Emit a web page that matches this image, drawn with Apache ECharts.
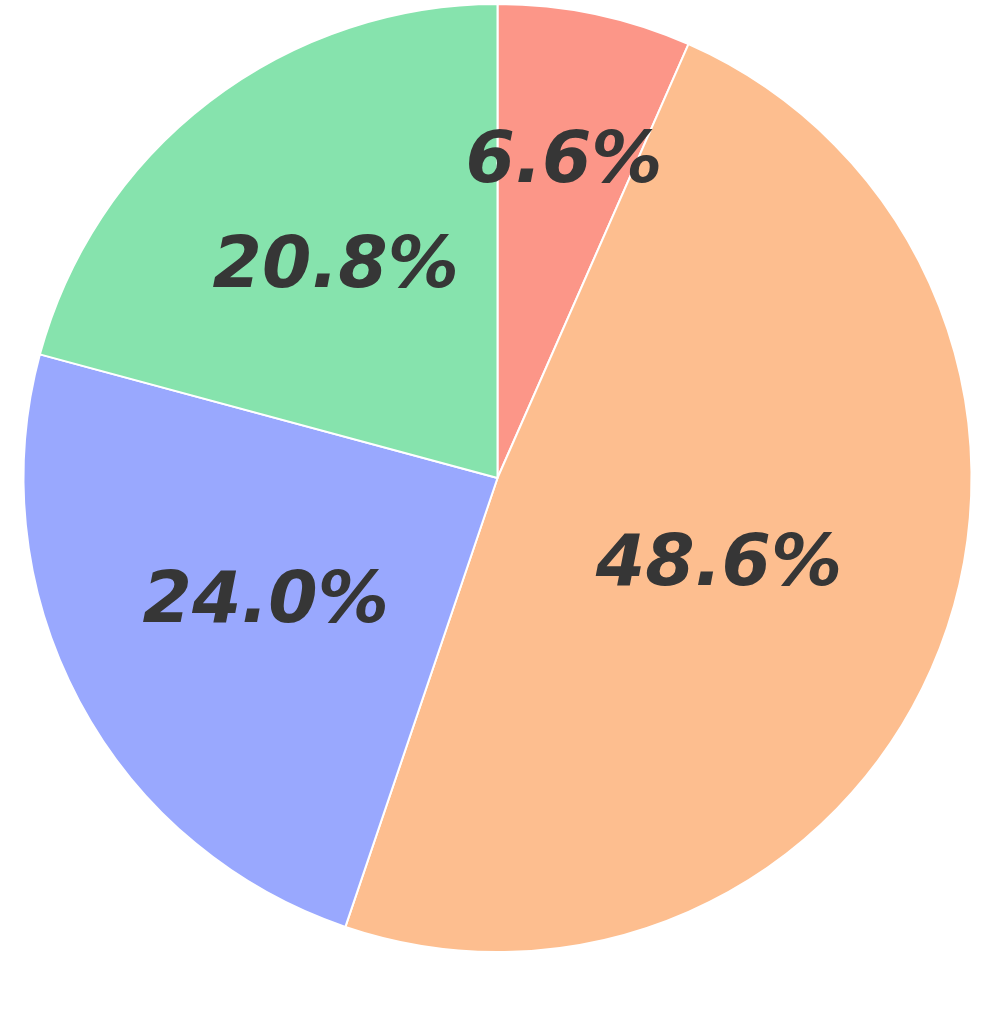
<!DOCTYPE html>
<html>
<head>
<meta charset="utf-8">
<script src="https://cdn.jsdelivr.net/npm/echarts@6/dist/echarts.min.js"></script>
<style>
  html, body { margin: 0; padding: 0; background: #fff; }
  #pie { width: 996px; height: 1018px; }
</style>
</head>
<body>
<div id="pie"></div>
<script>
// 数据
const names = ['A', 'B', 'C', 'D']
const values = [6.6, 48.6, 24.0, 20.8]
const colors = ['#fc9688', '#fdbe8f', '#99a8fe', '#86e3ad']

const R = 474
const center = [497.5, 478]
// label distance from centre, as a share of the radius
const labelDist = [0.675, 0.495, 0.548, 0.555]

const chartDom = document.getElementById('pie')
const myChart = echarts.init(chartDom)

const labelStyle = {
  show: true,
  position: 'inside',
  formatter: (p) => p.value.toFixed(1) + '%',
  color: '#363636',
  fontFamily: 'DejaVu Sans',
  fontWeight: 'bold',
  fontStyle: 'italic',
  fontSize: 71,
  offset: [0, 2]
}

const series = [
  {
    type: 'pie',
    center: center,
    radius: [0, R],
    startAngle: 90,
    clockwise: true,
    animation: false,
    silent: true,
    label: { show: false },
    labelLine: { show: false },
    itemStyle: { borderColor: '#fff', borderWidth: 2 },
    data: values.map((v, i) => ({ name: names[i], value: v, itemStyle: { color: colors[i] } }))
  }
]

// transparent copies, one per label, so each label sits at its own radius
values.forEach((v0, k) => {
  series.push({
    type: 'pie',
    center: center,
    radius: [0, 2 * labelDist[k] * R],
    startAngle: 90,
    clockwise: true,
    animation: false,
    silent: true,
    labelLine: { show: false },
    itemStyle: { color: 'rgba(0,0,0,0)', borderWidth: 0 },
    data: values.map((v, i) => ({
      name: names[i],
      value: v,
      label: i === k ? labelStyle : { show: false }
    }))
  })
})

let option = { series: series }
option && myChart.setOption(option)
</script>
</body>
</html>
